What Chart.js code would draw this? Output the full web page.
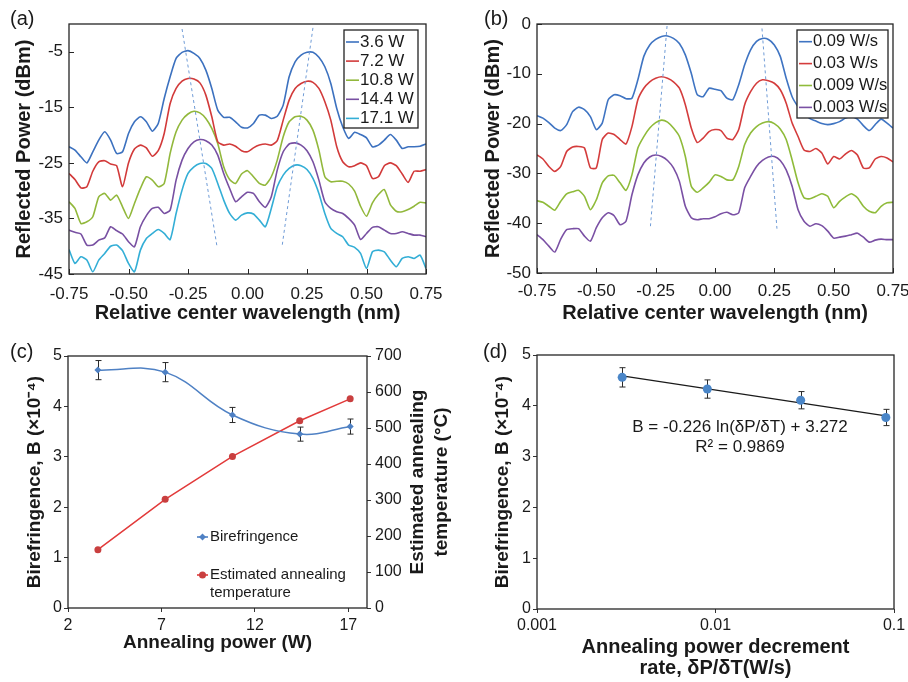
<!DOCTYPE html>
<html lang="en">
<head>
<meta charset="utf-8">
<title>Annealing and birefringence</title>
<script src="https://cdn.jsdelivr.net/npm/chart.js@4.4.1/dist/chart.umd.min.js"></script>
<style>
    html, body { margin: 0; padding: 0; background: #fff; }
    #page { position: relative; width: 908px; height: 682px; overflow: hidden; }
    #page canvas { position: absolute; }
</style>
</head>
<body>
<div id="page">
    <canvas id="chartA" width="454" height="330" style="left:0;top:0"></canvas>
    <canvas id="chartB" width="454" height="330" style="left:454px;top:0"></canvas>
    <canvas id="chartC" width="454" height="352" style="left:0;top:330px"></canvas>
    <canvas id="chartD" width="454" height="352" style="left:454px;top:330px"></canvas>
</div>
<script>
// ---- data ----
const wavelength = [-0.75, -0.725, -0.7, -0.675, -0.65, -0.625, -0.6, -0.575, -0.55, -0.525,
    -0.5, -0.475, -0.45, -0.425, -0.4, -0.375, -0.35, -0.325, -0.3, -0.275,
    -0.25, -0.225, -0.2, -0.175, -0.15, -0.125, -0.1, -0.075, -0.05, -0.025,
    0, 0.025, 0.05, 0.075, 0.1, 0.125, 0.15, 0.175, 0.2, 0.225,
    0.25, 0.275, 0.3, 0.325, 0.35, 0.375, 0.4, 0.425, 0.45, 0.475,
    0.5, 0.525, 0.55, 0.575, 0.6, 0.625, 0.65, 0.675, 0.7, 0.725, 0.75];
const xTicksAB = [-0.75, -0.5, -0.25, 0, 0.25, 0.5, 0.75];

// (a) annealing power
const labelsA = ['3.6 W', '7.2 W', '10.8 W', '14.4 W', '17.1 W'];
const spec36W = [-22.1, -22.7, -23.9, -25, -23, -20.9, -19.4, -20.9, -23.3, -23,
    -19.7, -17.6, -16.7, -17.6, -19.3, -17.9, -13.4, -9.5, -6.2, -5.1,
    -4.8, -5.3, -6.2, -8.3, -11.6, -15.5, -16.8, -16.8, -17.6, -18.6,
    -18.7, -17.9, -16.4, -16.4, -17, -16.6, -14.6, -9.5, -6.8, -5.6,
    -5.1, -5.1, -6, -7.7, -10.7, -15.2, -18.5, -20.6, -19.5, -19.9,
    -20.5, -22.1, -21.8, -20.9, -19.9, -20.9, -22.4, -22.1, -22.1, -22, -21.6];
const spec72W = [-26.9, -28, -29.5, -29.3, -26.5, -24.8, -24.6, -25.2, -25.5, -29.3,
    -25, -22.5, -21.8, -22.3, -23.8, -22.8, -19.7, -14.3, -11.6, -10.3,
    -9.8, -9.9, -10.6, -12.8, -16.7, -21.2, -21.8, -21.6, -22, -22.8,
    -23, -22.3, -21.8, -21.6, -21.8, -21, -17.3, -13.7, -11.6, -10.7,
    -10.3, -10.5, -11.6, -14, -17.3, -22.1, -24.8, -25.7, -25.5, -25,
    -25.5, -27.8, -27.5, -25.5, -25, -25.5, -27, -28.5, -26.5, -26.5, -26.2];
const spec108W = [-32, -33.2, -35.9, -35.6, -34.7, -31.1, -30.5, -31.7, -30.8, -32.9,
    -35, -32.3, -29.6, -27.5, -28.1, -29.3, -28.7, -23.3, -19.4, -17.3,
    -16.2, -15.7, -16, -17, -18.8, -21.5, -25.7, -28, -28.7, -27,
    -26.4, -27.5, -28.7, -29, -27.5, -24.5, -20.3, -17.6, -16.7, -16.6,
    -17.3, -19.1, -22.7, -27.5, -28.4, -28.3, -28.3, -28.8, -30.1, -32.8,
    -34.6, -32.2, -30.7, -29.8, -32.5, -33.7, -33.8, -33.4, -32.8, -32.1, -32.2];
const spec144W = [-37.1, -37.5, -37.8, -39.8, -39.8, -38.9, -38.5, -36.5, -37.2, -37.8,
    -39.2, -40.1, -36.5, -34.5, -33.2, -33, -34.1, -33.5, -28.1, -24.5,
    -22.4, -21.2, -20.8, -21, -21.8, -23.6, -26.9, -29.6, -32, -31.1,
    -30.3, -30.5, -32, -33, -31.1, -26.3, -23, -21.6, -21.4, -21.8,
    -22.8, -24.8, -28.1, -32, -33.2, -33.8, -34.1, -35, -36.2, -38.8,
    -37.7, -36.6, -36.5, -37.1, -37.7, -37.7, -37.4, -37.7, -38, -38, -38.3];
const spec171W = [-40.6, -43.1, -41.9, -42.5, -44.6, -42.5, -41.3, -40, -39.8, -40.8,
    -43.1, -44.6, -40.7, -38.6, -37.7, -37, -37.7, -38.8, -34.1, -29.9,
    -26.9, -25.7, -25.1, -25.1, -26, -28.7, -31.7, -34.1, -35.3, -34.4,
    -34, -34.2, -35.3, -36.5, -33.2, -29.3, -27.2, -26, -25.4, -25.5,
    -26.2, -27.8, -30.5, -34.1, -36.8, -37.7, -38.3, -39.8, -40.2, -41.3,
    -44, -41, -40.7, -41, -42.5, -43.7, -42.2, -41.9, -42.2, -41.6, -44];
const yTicksA = [-45, -35, -25, -15, -5];
const guideA1X = [-0.275, -0.128];
const guideA1Y = [-0.9, -40.1];
const guideA2X = [0.275, 0.145];
const guideA2Y = [-0.7, -40.1];

// (b) power decrement rate
const labelsB = ['0.09 W/s', '0.03 W/s', '0.009 W/s', '0.003 W/s'];
const spec0p09 = [-18.4, -18.9, -19.8, -20.9, -21.4, -20.2, -17.6, -16.7, -17.2, -18.6,
    -21.2, -19.9, -15.2, -14.2, -14.4, -15, -14.9, -11.2, -6.5, -4.2,
    -3.1, -2.5, -2.4, -2.9, -3.9, -6.2, -9.9, -14.2, -14.6, -12.9,
    -13.1, -13.4, -14.9, -15.2, -12.2, -8.2, -5.2, -3.5, -2.9, -3.1,
    -4.2, -6.5, -10.9, -14.6, -16.6, -18, -19, -19.5, -20, -20.2,
    -20, -19.6, -18.9, -18.6, -19.1, -20.4, -21.4, -20.2, -19.1, -19.9, -20.9];
const spec0p03 = [-26.3, -27.1, -28.6, -29.6, -28.6, -25.6, -24.7, -24.6, -24.9, -28.9,
    -28.9, -23.2, -21.9, -22.2, -23.2, -24.1, -20.6, -15.2, -12.9, -11.6,
    -10.9, -10.6, -10.9, -11.6, -12.9, -16.2, -20.9, -23.8, -22.9, -21.6,
    -21.2, -21.4, -22.9, -23.2, -21.2, -16.2, -13.6, -11.9, -11.2, -11.4,
    -11.9, -13.2, -15.9, -19.9, -22.6, -25.3, -25.6, -25, -25.9, -28.1,
    -26.6, -27.1, -26.1, -25.4, -26.3, -28.9, -28.9, -27.1, -26.6, -26.9, -27.7];
const spec0p009 = [-35.5, -35.8, -36.6, -37.4, -35.6, -34.1, -33.7, -33.4, -34.6, -37.3,
    -35.3, -31.9, -30.5, -30.4, -31.9, -33.4, -30.3, -24.9, -22.6, -20.9,
    -19.8, -19.3, -19.7, -20.9, -22.6, -26.6, -32.6, -33.8, -32.9, -31.8,
    -30.3, -30.6, -31.3, -31.3, -28.6, -24.2, -21.9, -20.6, -19.9, -19.6,
    -20, -21.1, -23.2, -27.3, -31.9, -34.9, -35.1, -34.6, -34.1, -34.6,
    -36.9, -35.6, -34.7, -34.1, -34.9, -36.6, -37.6, -37.9, -36.6, -35.9, -35.8];
const spec0p003 = [-42.3, -43.3, -44.6, -45.8, -43.2, -41.3, -41.1, -41.1, -42.6, -43.6,
    -40.9, -38.9, -37.9, -38.5, -40.3, -39.6, -34.3, -30.3, -27.9, -26.7,
    -26.3, -26.6, -27.4, -28.9, -31.6, -36.6, -38.9, -39.3, -39.1, -39.1,
    -38.7, -38.1, -37.8, -38.3, -37.9, -32.9, -30.6, -28.6, -27.4, -26.7,
    -26.6, -27.4, -29.3, -32.6, -37.3, -39.6, -40.6, -40.1, -40.5, -41.6,
    -43, -42.8, -42.6, -42.3, -42, -42.8, -43.8, -43.4, -43.2, -43.3, -43.3];
const yTicksB = [0, -10, -20, -30, -40, -50];
const guideB1X = [-0.202, -0.272];
const guideB1Y = [-0.4, -40.6];
const guideB2X = [0.198, 0.261];
const guideB2Y = [-0.9, -41.1];

// (c) birefringence and temperature vs annealing power
const powerC = [3.6, 7.2, 10.8, 14.4, 17.1];
const birefC = [4.72, 4.68, 3.83, 3.45, 3.6];
const birefErrC = [0.19, 0.19, 0.15, 0.14, 0.15];
const tempC = [162, 302, 421, 520, 581];
const xTicksC = [2, 7, 12, 17];
const yTicksC = [0, 1, 2, 3, 4, 5];
const y2TicksC = [0, 100, 200, 300, 400, 500, 600, 700];

// (d) birefringence vs decrement rate
const rateD = [0.003, 0.009, 0.03, 0.09];
const birefD = [4.56, 4.33, 4.11, 3.77];
const birefErrD = [0.19, 0.18, 0.17, 0.16];
const fitRateD = [0.003, 0.09];
const fitBirefD = [4.59, 3.8];
const xTicksD = [0.001, 0.01, 0.1];
const yTicksD = [0, 1, 2, 3, 4, 5];

// ---- helpers ----
const FONT = "'Liberation Sans', Arial, Helvetica, sans-serif";
Chart.defaults.font.family = FONT;
Chart.defaults.color = '#1a1a1a';

const colorsA = ['#3c71bf', '#d23a3a', '#92b83c', '#7850a2', '#33aed6'];
const colorsB = ['#3f74c2', '#d43c3c', '#8fbb3a', '#7a50a4'];

const xy = (xs, ys) => xs.map((x, i) => ({ x, y: ys[i] }));
const fixedTicks = vals => s => { s.ticks = vals.map(v => ({ value: v })); };
const fitWidth = w => s => { s.width = w; s.paddingTop = 0; s.paddingBottom = 0; };
const fitHeight = h => s => { s.height = h; s.paddingLeft = 0; s.paddingRight = 0; };

const trace = (ys, color) => ({
    data: xy(wavelength, ys), showLine: true, borderColor: color,
    borderWidth: 1.6, pointRadius: 0, tension: 0.2
});
const guide = (xs, ys) => ({
    data: xy(xs, ys), showLine: true, borderColor: '#6f9bd6',
    borderWidth: 1, borderDash: [3, 3], pointRadius: 0
});

// frame box, optional inward tick marks
const frame = {
    id: 'frame',
    afterDatasetsDraw(chart, args, opts) {
        const { ctx, chartArea: a } = chart;
        ctx.save();
        ctx.strokeStyle = '#262626';
        if (opts.inwardTicks) {
            ctx.lineWidth = 1;
            ctx.beginPath();
            const xs = chart.scales.x, ys = chart.scales.y;
            xs.ticks.forEach(t => {
                const px = Math.round(xs.getPixelForValue(t.value)) + 0.5;
                ctx.moveTo(px, a.bottom);
                ctx.lineTo(px, a.bottom - 5);
            });
            ys.ticks.forEach(t => {
                const py = Math.round(ys.getPixelForValue(t.value)) + 0.5;
                ctx.moveTo(a.left, py);
                ctx.lineTo(a.left + 5, py);
            });
            ctx.stroke();
        }
        ctx.lineWidth = 1.3;
        ctx.strokeRect(a.left, a.top, a.right - a.left, a.bottom - a.top);
        ctx.restore();
    }
};

const errorBars = {
    id: 'errorBars',
    beforeDatasetsDraw(chart, args, opts) {
        if (!opts.errors) return;
        const { ctx } = chart;
        const meta = chart.getDatasetMeta(opts.datasetIndex);
        const ds = chart.data.datasets[opts.datasetIndex];
        const ys = chart.scales[meta.yAxisID];
        ctx.save();
        ctx.strokeStyle = '#2a2a2a';
        ctx.lineWidth = 1;
        meta.data.forEach((pt, i) => {
            const v = ds.data[i].y, e = opts.errors[i];
            const top = ys.getPixelForValue(v + e), bot = ys.getPixelForValue(v - e);
            const x = Math.round(pt.x) + 0.5;
            ctx.beginPath();
            ctx.moveTo(x, top); ctx.lineTo(x, bot);
            ctx.moveTo(x - 3, top); ctx.lineTo(x + 3, top);
            ctx.moveTo(x - 3, bot); ctx.lineTo(x + 3, bot);
            ctx.stroke();
        });
        ctx.restore();
    }
};

const boxLegend = {
    id: 'boxLegend',
    afterDraw(chart, args, o) {
        if (!o.items) return;
        const { ctx } = chart;
        ctx.save();
        if (o.box) {
            const [x1, y1, x2, y2] = o.box;
            ctx.fillStyle = '#fff';
            ctx.fillRect(x1, y1, x2 - x1, y2 - y1);
            ctx.strokeStyle = '#222';
            ctx.lineWidth = 1.3;
            ctx.strokeRect(x1, y1, x2 - x1, y2 - y1);
        }
        ctx.font = o.font;
        ctx.textBaseline = 'middle';
        o.items.forEach((it, i) => {
            const y = o.rowY + i * o.rowGap;
            ctx.strokeStyle = it.color;
            ctx.lineWidth = 1.6;
            ctx.beginPath();
            ctx.moveTo(o.lineX[0], y);
            ctx.lineTo(o.lineX[1], y);
            ctx.stroke();
            if (it.marker) {
                const cx = (o.lineX[0] + o.lineX[1]) / 2;
                ctx.fillStyle = it.markerColor || it.color;
                ctx.beginPath();
                if (it.marker === 'diamond') {
                    ctx.moveTo(cx, y - 3.5); ctx.lineTo(cx + 3.5, y);
                    ctx.lineTo(cx, y + 3.5); ctx.lineTo(cx - 3.5, y);
                    ctx.closePath();
                } else {
                    ctx.arc(cx, y, 3.5, 0, Math.PI * 2);
                }
                ctx.fill();
            }
            ctx.fillStyle = '#1a1a1a';
            [].concat(it.label).forEach((line, k) => ctx.fillText(line, o.textX, y + k * (o.lineGap || 0)));
        });
        ctx.restore();
    }
};

const texts = {
    id: 'texts',
    afterDraw(chart, args, o) {
        const { ctx } = chart;
        (o.items || []).forEach(t => {
            ctx.save();
            ctx.font = t.font;
            ctx.fillStyle = '#1a1a1a';
            ctx.textAlign = t.align || 'left';
            ctx.textBaseline = 'middle';
            ctx.translate(t.x, t.y);
            if (t.rotate) ctx.rotate(t.rotate);
            ctx.fillText(t.text, 0, 0);
            ctx.restore();
        });
    }
};

const noGrid = { display: false, drawTicks: false };
const outGrid = { display: true, drawOnChartArea: false, drawTicks: true, tickLength: 4, color: '#333' };
const baseOptions = {
    responsive: false,
    animation: false,
    devicePixelRatio: 1
};

// ---- (a) ----
new Chart(document.getElementById('chartA'), {
    type: 'scatter',
    data: {
        datasets: [
            guide(guideA1X, guideA1Y),
            guide(guideA2X, guideA2Y),
            trace(spec36W, colorsA[0]),
            trace(spec72W, colorsA[1]),
            trace(spec108W, colorsA[2]),
            trace(spec144W, colorsA[3]),
            trace(spec171W, colorsA[4])
        ]
    },
    options: {
        ...baseOptions,
        layout: { padding: { top: 24, right: 28, left: 0, bottom: 0 } },
        plugins: {
            legend: { display: false },
            tooltip: { enabled: false },
            frame: { inwardTicks: true },
            boxLegend: {
                box: [344, 30, 418, 128], font: '17px ' + FONT,
                lineX: [346, 359], textX: 360, rowY: 42, rowGap: 19.1,
                items: labelsA.map((l, i) => ({ label: l, color: colorsA[i] }))
            },
            texts: { items: [{ text: '(a)', x: 10, y: 19, font: '20px ' + FONT }] }
        },
        scales: {
            x: {
                type: 'linear', min: -0.75, max: 0.75,
                afterBuildTicks: fixedTicks(xTicksAB), afterFit: fitHeight(56),
                grid: noGrid, border: { display: false },
                ticks: { font: { size: 17 }, padding: 10, autoSkip: false, maxRotation: 0, callback: v => v.toFixed(2) },
                title: { display: true, text: 'Relative center wavelength (nm)', font: { size: 20, weight: 'bold' }, padding: { top: 0, bottom: 5 } }
            },
            y: {
                min: -45, max: 0,
                afterBuildTicks: fixedTicks(yTicksA), afterFit: fitWidth(69),
                grid: noGrid, border: { display: false },
                ticks: { font: { size: 17 }, padding: 6, autoSkip: false },
                title: { display: true, text: 'Reflected Power (dBm)', font: { size: 20, weight: 'bold' }, padding: { top: 12, bottom: 0 } }
            }
        }
    },
    plugins: [frame, boxLegend, texts]
});

// ---- (b) ----
new Chart(document.getElementById('chartB'), {
    type: 'scatter',
    data: {
        datasets: [
            guide(guideB1X, guideB1Y),
            guide(guideB2X, guideB2Y),
            trace(spec0p09, colorsB[0]),
            trace(spec0p03, colorsB[1]),
            trace(spec0p009, colorsB[2]),
            trace(spec0p003, colorsB[3])
        ]
    },
    options: {
        ...baseOptions,
        layout: { padding: { top: 24, right: 15, left: 0, bottom: 0 } },
        plugins: {
            legend: { display: false },
            tooltip: { enabled: false },
            frame: { inwardTicks: true },
            boxLegend: {
                box: [343, 30, 434, 118], font: '16.5px ' + FONT,
                lineX: [345, 358], textX: 359, rowY: 41.7, rowGap: 21.9,
                items: labelsB.map((l, i) => ({ label: l, color: colorsB[i] }))
            },
            texts: { items: [{ text: '(b)', x: 30, y: 19, font: '20px ' + FONT }] }
        },
        scales: {
            x: {
                type: 'linear', min: -0.75, max: 0.75,
                afterBuildTicks: fixedTicks(xTicksAB), afterFit: fitHeight(57),
                grid: noGrid, border: { display: false },
                ticks: { font: { size: 17 }, padding: 8, autoSkip: false, maxRotation: 0, callback: v => v.toFixed(2) },
                title: { display: true, text: 'Relative center wavelength (nm)', font: { size: 20, weight: 'bold' }, padding: { top: 0, bottom: 5 } }
            },
            y: {
                min: -50, max: 0,
                afterBuildTicks: fixedTicks(yTicksB), afterFit: fitWidth(83),
                grid: noGrid, border: { display: false },
                ticks: { font: { size: 17 }, padding: 6, autoSkip: false },
                title: { display: true, text: 'Reflected Power (dBm)', font: { size: 20, weight: 'bold' }, padding: { top: 27, bottom: 0 } }
            }
        }
    },
    plugins: [frame, boxLegend, texts]
});

// ---- (c) ----
const blueC = '#4f81c4';
const redC = '#e23a3a';
new Chart(document.getElementById('chartC'), {
    type: 'scatter',
    data: {
        datasets: [
            {
                data: xy(powerC, birefC), yAxisID: 'y', showLine: true, tension: 0.4,
                borderColor: blueC, backgroundColor: blueC, borderWidth: 1.5,
                pointStyle: 'rectRot', pointRadius: 3.5, pointBorderWidth: 0
            },
            {
                data: xy(powerC, tempC), yAxisID: 'y2', showLine: true, tension: 0,
                borderColor: redC, backgroundColor: '#c93f3f', borderWidth: 1.5,
                pointRadius: 3.5, pointBorderWidth: 0
            }
        ]
    },
    options: {
        ...baseOptions,
        layout: { padding: { top: 26, right: 0, left: 0, bottom: 0 } },
        plugins: {
            legend: { display: false },
            tooltip: { enabled: false },
            frame: {},
            errorBars: { datasetIndex: 0, errors: birefErrC },
            boxLegend: {
                font: '15px ' + FONT, lineX: [197, 208], textX: 210, rowY: 207, rowGap: 38, lineGap: 17.5,
                items: [
                    { label: 'Birefringence', color: blueC, marker: 'diamond' },
                    { label: ['Estimated annealing', 'temperature'], color: redC, marker: 'circle', markerColor: '#c93f3f' }
                ]
            },
            texts: {
                items: [
                    { text: '(c)', x: 10, y: 22, font: '20px ' + FONT },
                    { text: 'Estimated annealing', x: 418, y: 152, rotate: -Math.PI / 2, align: 'center', font: 'bold 19px ' + FONT },
                    { text: 'temperature (°C)', x: 442, y: 152, rotate: -Math.PI / 2, align: 'center', font: 'bold 19px ' + FONT }
                ]
            }
        },
        scales: {
            x: {
                type: 'linear', min: 2, max: 18,
                afterBuildTicks: fixedTicks(xTicksC), afterFit: fitHeight(74),
                grid: outGrid, border: { display: false },
                ticks: { font: { size: 16 }, padding: 4, autoSkip: false, maxRotation: 0 },
                title: { display: true, text: 'Annealing power (W)', font: { size: 19, weight: 'bold' }, padding: { top: 0, bottom: 27.6 } }
            },
            y: {
                position: 'left', min: 0, max: 5,
                afterBuildTicks: fixedTicks(yTicksC), afterFit: fitWidth(68),
                grid: outGrid, border: { display: false },
                ticks: { font: { size: 16 }, padding: 2, autoSkip: false },
                title: { display: true, text: 'Birefringence, B (×10⁻⁴)', font: { size: 19, weight: 'bold' }, padding: { top: 23.6, bottom: 0 } }
            },
            y2: {
                position: 'right', min: 0, max: 700,
                afterBuildTicks: fixedTicks(y2TicksC), afterFit: fitWidth(87),
                grid: outGrid, border: { display: false },
                ticks: { font: { size: 16 }, padding: 4, autoSkip: false }
            }
        }
    },
    plugins: [errorBars, frame, boxLegend, texts]
});

// ---- (d) ----
new Chart(document.getElementById('chartD'), {
    type: 'scatter',
    data: {
        datasets: [
            {
                data: xy(rateD, birefD), pointRadius: 4.5, pointBorderWidth: 0,
                backgroundColor: '#4a86c8', borderColor: '#4a86c8'
            },
            {
                data: xy(fitRateD, fitBirefD), showLine: true, pointRadius: 0,
                borderColor: '#1a1a1a', borderWidth: 1.2
            }
        ]
    },
    options: {
        ...baseOptions,
        layout: { padding: { top: 25, right: 14, left: 0, bottom: 0 } },
        plugins: {
            legend: { display: false },
            tooltip: { enabled: false },
            frame: {},
            errorBars: { datasetIndex: 0, errors: birefErrD },
            texts: {
                items: [
                    { text: '(d)', x: 29, y: 22, font: '20px ' + FONT },
                    { text: 'B = -0.226 ln(δP/δT) + 3.272', x: 286, y: 97, align: 'center', font: '17px ' + FONT },
                    { text: 'R² = 0.9869', x: 286, y: 117, align: 'center', font: '17px ' + FONT }
                ]
            }
        },
        scales: {
            x: {
                type: 'logarithmic', min: 0.001, max: 0.1,
                afterBuildTicks: fixedTicks(xTicksD), afterFit: fitHeight(73),
                grid: outGrid, border: { display: false },
                ticks: { font: { size: 16 }, padding: 3, autoSkip: false, maxRotation: 0, callback: v => String(v) },
                title: {
                    display: true, text: ['Annealing power decrement', 'rate, δP/δT(W/s)'],
                    font: { size: 20, weight: 'bold', lineHeight: 1.05 }, padding: { top: 0, bottom: 3.5 }
                }
            },
            y: {
                min: 0, max: 5,
                afterBuildTicks: fixedTicks(yTicksD), afterFit: fitWidth(83),
                grid: outGrid, border: { display: false },
                ticks: { font: { size: 16 }, padding: 2, autoSkip: false },
                title: { display: true, text: 'Birefringence, B (×10⁻⁴)', font: { size: 19, weight: 'bold' }, padding: { top: 37.6, bottom: 0 } }
            }
        }
    },
    plugins: [errorBars, frame, texts]
});
</script>
</body>
</html>
